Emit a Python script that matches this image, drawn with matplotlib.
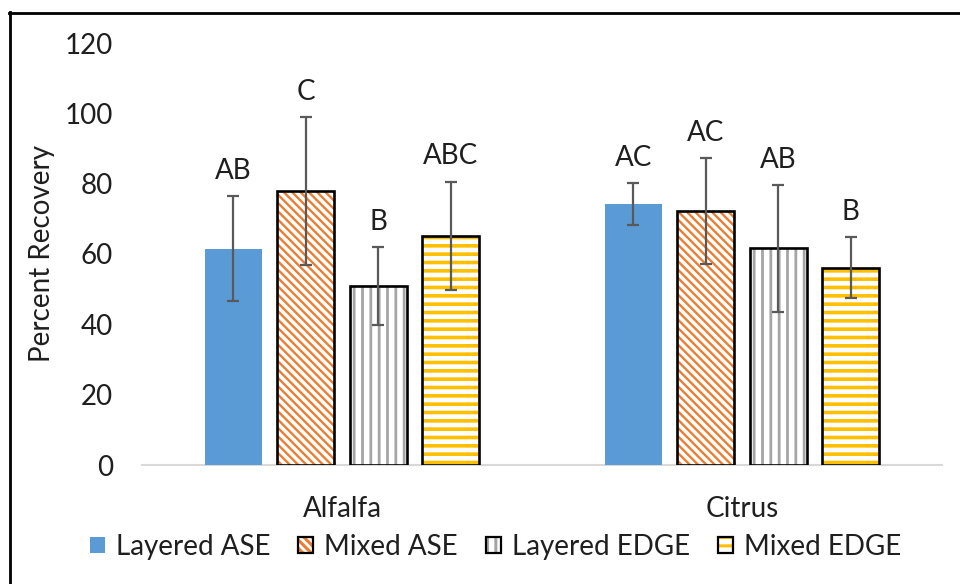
import matplotlib
matplotlib.use("Agg")
import matplotlib.pyplot as plt
from matplotlib.patches import Patch
from matplotlib.legend_handler import HandlerTuple
from matplotlib.lines import Line2D
import numpy as np

categories = ['Alfalfa', 'Citrus']
series_names = ['Layered ASE', 'Mixed ASE', 'Layered EDGE', 'Mixed EDGE']
layered_ase = [61.5, 74.2]
layered_ase_err = [15.0, 6.0]
mixed_ase = [77.9, 72.2]
mixed_ase_err = [21.0, 15.0]
layered_edge = [50.9, 61.6]
layered_edge_err = [11.0, 18.0]
mixed_edge = [65.2, 56.1]
mixed_edge_err = [15.4, 8.7]
letters_layered_ase = ['AB', 'AC']
letters_mixed_ase = ['C', 'AC']
letters_layered_edge = ['B', 'AB']
letters_mixed_edge = ['ABC', 'B']
yticks = [0, 20, 40, 60, 80, 100, 120]

values = [layered_ase, mixed_ase, layered_edge, mixed_edge]
errors = [layered_ase_err, mixed_ase_err, layered_edge_err, mixed_edge_err]
letters = [letters_layered_ase, letters_mixed_ase, letters_layered_edge, letters_mixed_edge]

plt.rcParams['font.family'] = ['Lato', 'DejaVu Sans']
plt.rcParams['hatch.linewidth'] = 2.2

BS = chr(92)
styles = [
    dict(face='#5B9BD5', hatch=None, hcolor=None, hlw=None),
    dict(face='white', hatch=BS * 4, hcolor='#ED7D31', hlw=1.7),
    dict(face='white', hatch='||', hcolor='#A5A5A5', hlw=2.0),
    dict(face='white', hatch='--', hcolor='#FFC000', hlw=2.6),
]

FS = 20
fig = plt.figure(figsize=(9.6, 5.84), dpi=100)
ax = fig.add_axes([142/960, 1-465/584, 800/960, (465-43)/584])


def set_hlw(artists, lw):
    for a in artists:
        if hasattr(a, 'set_hatch_linewidth'):
            a.set_hatch_linewidth(lw)


x = np.arange(len(categories))
step = 0.181
width = 0.1425
txtcol = '#1f1f1f'
handles = []
for i, (vals, errs, lets, st) in enumerate(zip(values, errors, letters, styles)):
    pos = x + (i - 1.5) * step
    if st['hatch'] is None:
        ax.bar(pos, vals, width, color=st['face'], linewidth=0, zorder=2)
        h = Patch(facecolor=st['face'], edgecolor='none')
    else:
        with plt.rc_context({'hatch.linewidth': st['hlw']}):
            bars = ax.bar(pos, vals, width, facecolor='white', edgecolor=st['hcolor'],
                          hatch=st['hatch'], linewidth=0, zorder=2)
            h1 = Patch(facecolor='white', edgecolor=st['hcolor'], hatch=st['hatch'], linewidth=0)
        set_hlw(list(bars) + [h1], st['hlw'])
        ax.bar(pos, vals, width, fill=False, edgecolor='black', linewidth=1.9, zorder=3)
        h2 = Patch(fill=False, edgecolor='black', linewidth=1.6)
        h = (h1, h2)
    handles.append(h)
    ax.errorbar(pos, vals, yerr=errs, fmt='none', ecolor='#595959', elinewidth=1.6,
                capsize=4.5, capthick=1.6, zorder=4)
    for p, v, e, t in zip(pos, vals, errs, lets):
        ax.annotate(t, (p, v + e), xytext=(0, 12.5), textcoords='offset points',
                    ha='center', va='baseline', fontsize=FS, color=txtcol)

ax.set_xlim(-0.5, 1.5)
ax.set_ylim(0, 120)
ax.set_yticks(yticks)
ax.set_xticks(x)
ax.set_xticklabels(categories)
for s in ['top', 'right', 'left']:
    ax.spines[s].set_visible(False)
ax.spines['bottom'].set_color('#D9D9D9')
ax.spines['bottom'].set_linewidth(1.5)
ax.spines['bottom'].set_zorder(1)
ax.tick_params(axis='both', length=0, labelsize=FS, labelcolor=txtcol)
ax.tick_params(axis='x', pad=22)
ax.tick_params(axis='y', pad=21)
ax.set_ylabel('Percent Recovery', fontsize=FS, color=txtcol)
ax.yaxis.set_label_coords(-0.109, 0.5)

fig.legend(handles, series_names, loc='center', bbox_to_anchor=(495.5/960, 1-547/584),
           ncol=4, frameon=False, fontsize=FS, handlelength=0.54, handleheight=0.54,
           handletextpad=0.4, columnspacing=1.0, labelcolor=txtcol, borderpad=0,
           handler_map={tuple: HandlerTuple(ndivide=1, pad=0)})

fig.add_artist(Line2D([9.5/960, 9.5/960], [0, 1-11.5/584], transform=fig.transFigure,
                      color='black', linewidth=2.0))
fig.add_artist(Line2D([8.5/960, 1], [1-12.5/584, 1-12.5/584], transform=fig.transFigure,
                      color='black', linewidth=2.0))

fig.savefig('out.png', dpi=100)
